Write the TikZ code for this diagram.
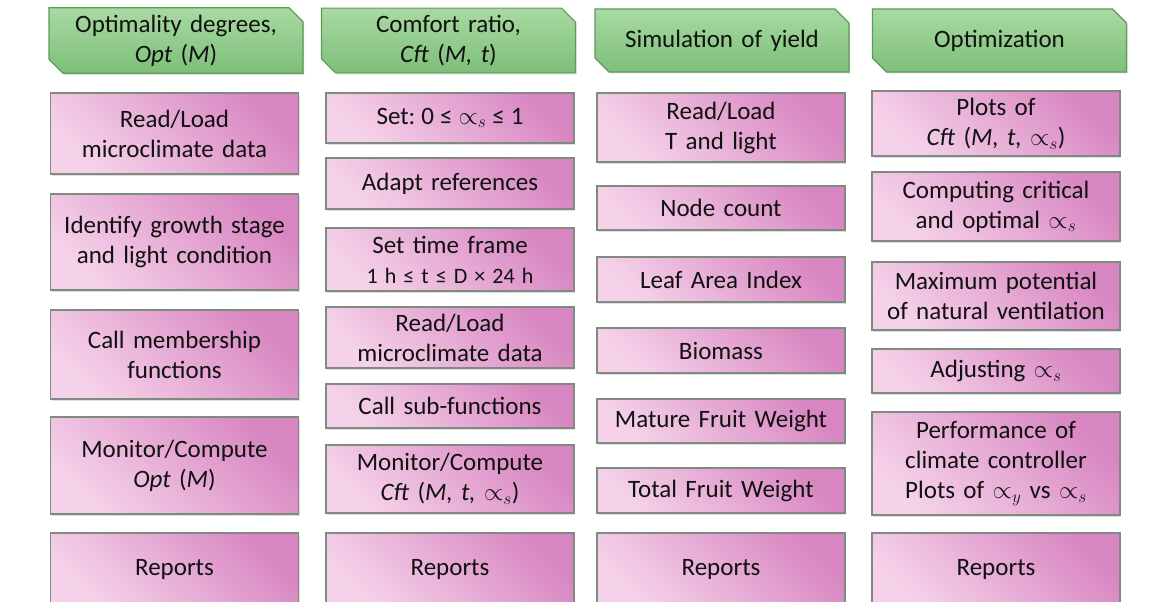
\documentclass[tikz,border=0pt]{standalone}
\usepackage{fontspec}
\setmainfont{Carlito}
\usetikzlibrary{shapes.misc,shadows}
\definecolor{pinkD}{HTML}{D886C1}
\definecolor{pinkL}{HTML}{F5D2E9}
\definecolor{greenT}{HTML}{A8DAA2}
\definecolor{greenB}{HTML}{7DBF79}
\definecolor{greenE}{HTML}{5E9B5A}
\definecolor{boxedge}{HTML}{7F8A80}
\definecolor{txt}{HTML}{111111}
\newcommand{\lsp}{\hspace{0.24em}}
\newcommand{\tsp}{\hspace{0.32em}}
\tikzset{
  pbox/.style={rectangle, draw=boxedge, line width=1.2pt,
    top color=pinkD, bottom color=pinkL, shading angle=-45,
    minimum width=248pt, text width=244pt, align=center, inner sep=0pt,
    font=\fontsize{25}{30}\selectfont, text=txt,
    drop shadow={shadow xshift=1.2pt, shadow yshift=-1.5pt, opacity=0.25}},
  hbox/.style={chamfered rectangle, chamfered rectangle corners={north east,south west},
    chamfered rectangle xsep=7pt, chamfered rectangle ysep=7pt,
    draw=greenE, line width=1.2pt, top color=greenT, bottom color=greenB,
    minimum width=251pt, minimum height=63pt, inner sep=0pt, text width=240pt, align=center,
    font=\fontsize{25}{30}\selectfont, text=txt,
    drop shadow={shadow xshift=1.2pt, shadow yshift=-1.5pt, opacity=0.3}}
}
\begin{document}
\begin{tikzpicture}[x=1pt,y=-1pt]
\useasboundingbox[fill=white] (0,0) rectangle (1159,602);
% headers
\node[hbox] (h1) at (176,40.5) {Optimality degrees,\\\textit{Opt} (\textit{M})};
\node[hbox] (h2) at (448.5,40.5) {Comfort ratio,\\\textit{Cft} (\textit{M, t})};
\node[hbox] (h3) at (722,40.5) {Simulation of yield};
\node[hbox] (h4) at (999.5,40.5) {Optimization};
% column 1
\node[pbox, minimum height=81pt] (a1) at (174.5,133.5) {Read/Load\\microclimate data};
\node[pbox, minimum height=96pt] (a2) at (174.5,242) {Identify growth stage\\and light condition};
\node[pbox, minimum height=89pt] (a3) at (174.5,354.5) {Call membership\\functions};
\node[pbox, minimum height=97pt] (a4) at (174.5,465.5) {Monitor/Compute\\\textit{Opt} (\textit{M})};
\node[pbox, minimum height=72pt] (a5) at (174.5,569) {Reports};
% column 2
\node[pbox, minimum height=50pt] (b1) at (450,118) {Set:\lsp 0\lsp≤\lsp$\propto_{s}$\lsp≤\lsp 1};
\node[pbox, minimum height=51pt] (b2) at (450,183.5) {Adapt references};
\node[pbox, minimum height=63pt] (b3) at (450,259.5) {Set time frame\\{\fontsize{22}{30}\selectfont 1\tsp h\tsp≤\tsp t\tsp≤\tsp D\tsp×\tsp 24\tsp h}};
\node[pbox, minimum height=61pt] (b4) at (450,337.5) {Read/Load\\microclimate data};
\node[pbox, minimum height=44pt] (b5) at (450,406) {Call sub-functions};
\node[pbox, minimum height=68pt] (b6) at (450,479) {Monitor/Compute\\\textit{Cft} (\textit{M, t,} $\propto_{s}$)};
\node[pbox, minimum height=72pt] (b7) at (450,569) {Reports};
% column 3
\node[pbox, minimum height=69pt] (c1) at (721,127.5) {Read/Load\\T and light};
\node[pbox, minimum height=44pt] (c2) at (721,208) {Node count};
\node[pbox, minimum height=45pt] (c3) at (721,279.5) {Leaf Area Index};
\node[pbox, minimum height=45pt] (c4) at (721,350.5) {Biomass};
\node[pbox, minimum height=44pt] (c5) at (721,421) {Mature Fruit Weight};
\node[pbox, minimum height=45pt] (c6) at (721,490.5) {Total Fruit Weight};
\node[pbox, minimum height=72pt] (c7) at (721,569) {Reports};
% column 4
\node[pbox, minimum height=65pt] (d1) at (996,123.5) {Plots of\\\textit{Cft} (\textit{M, t,} $\propto_{s}$)};
\node[pbox, minimum height=69pt] (d2) at (996,206.5) {Computing critical\\and optimal $\propto_{s}$};
\node[pbox, minimum height=68pt] (d3) at (996,296) {Maximum potential\\of natural ventilation};
\node[pbox, minimum height=44pt] (d4) at (996,371) {Adjusting $\propto_{s}$};
\node[pbox, minimum height=103pt] (d5) at (996,463.5) {Performance of\\climate controller\\Plots of $\propto_{y}$ vs $\propto_{s}$};
\node[pbox, minimum height=72pt] (d6) at (996,569) {Reports};
\end{tikzpicture}
\end{document}
